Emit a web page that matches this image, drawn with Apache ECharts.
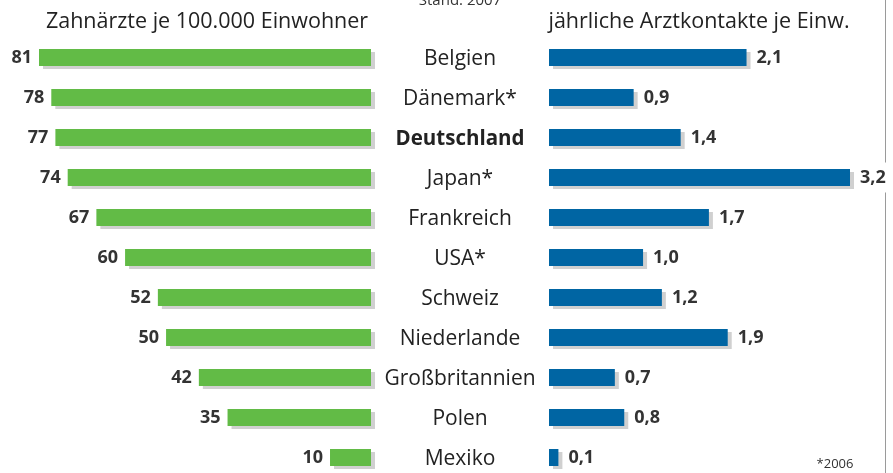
<!DOCTYPE html>
<html>
<head>
<meta charset="utf-8">
<script src="https://cdn.jsdelivr.net/npm/echarts@6/dist/echarts.min.js"></script>
<style>
  html, body { margin: 0; padding: 0; background: #fff; }
  #chart { width: 893px; height: 473px; }
</style>
</head>
<body>
<div id="chart"></div>
<script>
// Laender, Stand 2007 (* = 2006)
var countries = ['Belgien', 'Dänemark*', 'Deutschland', 'Japan*', 'Frankreich', 'USA*', 'Schweiz', 'Niederlande', 'Großbritannien', 'Polen', 'Mexiko'];
// Zahnaerzte je 100.000 Einwohner
var dentists = [81, 78, 77, 74, 67, 60, 52, 50, 42, 35, 10];
// jaehrliche Arztkontakte je Einwohner
var contacts = [2.1, 0.9, 1.4, 3.2, 1.7, 1.0, 1.2, 1.9, 0.7, 0.8, 0.1];

var FONT = '"Open Sans", "Noto Sans", sans-serif';
var chart = echarts.init(document.getElementById('chart'));

var shadow = {
  shadowColor: '#d0d0d0',
  shadowBlur: 0,
  shadowOffsetX: 4,
  shadowOffsetY: 3
};

chart.setOption({
  animation: false,
  backgroundColor: '#fff',
  graphic: [
    { type: 'line', z: -10, shape: { x1: 885.5, y1: 0, x2: 885.5, y2: 473 }, style: { stroke: '#9a9a9a', lineWidth: 1 } },
    { type: 'text', x: 460, y: 8, style: { text: 'Stand: 2007', font: '15px ' + FONT, fill: '#333', align: 'center', verticalAlign: 'bottom' } },
    { type: 'text', x: 207, y: 22, style: { text: 'Zahnärzte je 100.000 Einwohner', font: '21.5px ' + FONT, fill: '#222', align: 'center', verticalAlign: 'middle' } },
    { type: 'text', x: 699, y: 22, style: { text: 'jährliche Arztkontakte je Einw.', font: '21.5px ' + FONT, fill: '#222', align: 'center', verticalAlign: 'middle' } },
    { type: 'text', x: 835, y: 464, style: { text: '*2006', font: '13px ' + FONT, fill: '#333', align: 'center', verticalAlign: 'middle' } }
  ],
  grid: [
    { left: 39, right: 522, top: 37.5, height: 440, outerBoundsMode: 'none' },
    { left: 549, right: 43, top: 37.5, height: 440, outerBoundsMode: 'none' }
  ],
  xAxis: [
    { gridIndex: 0, type: 'value', min: 0, max: 81, inverse: true, show: false },
    { gridIndex: 1, type: 'value', min: 0, max: 3.2, show: false }
  ],
  yAxis: [
    {
      gridIndex: 0, type: 'category', data: countries, inverse: true, position: 'right',
      axisLine: { show: false }, axisTick: { show: false }, splitLine: { show: false },
      axisLabel: {
        margin: 89, align: 'center', fontFamily: FONT, fontSize: 21, color: '#222',
        padding: [3, 0, 0, 0],
        formatter: function (v) { return v === 'Deutschland' ? '{b|' + v + '}' : v; },
        rich: { b: { fontFamily: FONT, fontSize: 20.5, fontWeight: 'bold', color: '#222' } }
      }
    },
    {
      gridIndex: 1, type: 'category', data: countries, inverse: true, show: false
    }
  ],
  series: [
    {
      type: 'bar', xAxisIndex: 0, yAxisIndex: 0, data: dentists, barWidth: 17,
      itemStyle: Object.assign({ color: '#62bb46' }, shadow),
      label: {
        show: true, position: 'left', distance: 7,
        fontFamily: FONT, fontSize: 18, fontWeight: 'bold', color: '#333'
      }
    },
    {
      type: 'bar', xAxisIndex: 1, yAxisIndex: 1, data: contacts, barWidth: 17,
      itemStyle: Object.assign({ color: '#0065a3' }, shadow),
      label: {
        show: true, position: 'right', distance: 8,
        fontFamily: FONT, fontSize: 18, fontWeight: 'bold', color: '#333',
        backgroundColor: '#fff', padding: [6, 2],
        formatter: function (p) { return p.value.toFixed(1).replace('.', ','); }
      }
    }
  ]
});
</script>
</body>
</html>
